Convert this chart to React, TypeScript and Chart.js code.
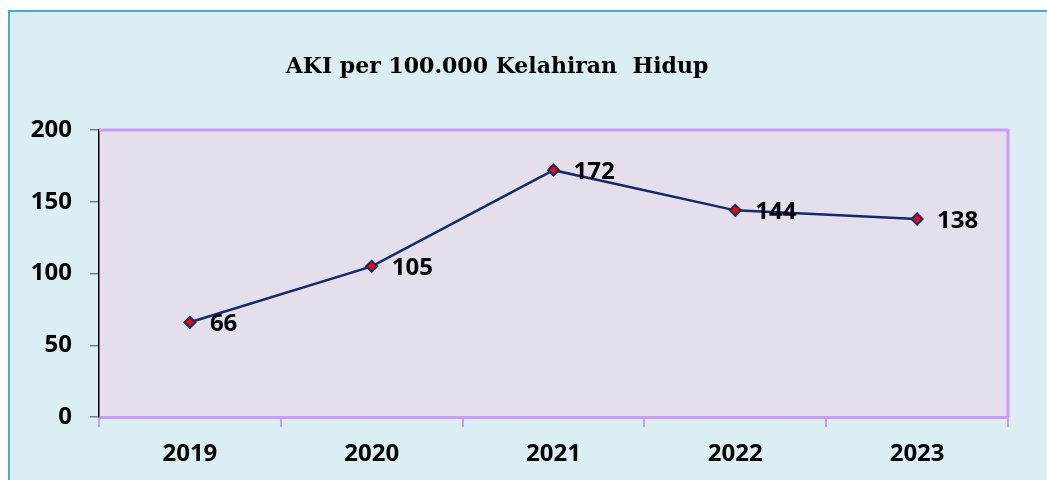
import React, { useEffect, useRef } from "react";
import { Chart, registerables } from "chart.js";

Chart.register(...registerables);

const TITLE = "AKI per 100.000 Kelahiran  Hidup";
const YEARS = ["2019", "2020", "2021", "2022", "2023"];
const AKI_VALUES = [66, 105, 172, 144, 138];
const Y_MIN = 0;
const Y_MAX = 200;
const Y_STEP = 50;

const LABEL_FONT = "bold 24px 'Open Sans'";

const decorPlugin = {
  id: "decor",
  beforeDraw(chart: any) {
    const { ctx, chartArea } = chart;
    ctx.save();
    ctx.fillStyle = "#e5dfec";
    ctx.fillRect(chartArea.left, chartArea.top, chartArea.right - chartArea.left, chartArea.bottom - chartArea.top);
    ctx.restore();
  },
  afterDraw(chart: any) {
    const { ctx, chartArea } = chart;
    ctx.save();
    ctx.strokeStyle = "#cc99ff";
    ctx.lineWidth = 3;
    ctx.beginPath();
    ctx.moveTo(chartArea.left, chartArea.top);
    ctx.lineTo(chartArea.right, chartArea.top);
    ctx.lineTo(chartArea.right, chartArea.bottom);
    ctx.stroke();
    // title
    ctx.fillStyle = "#000";
    ctx.font = "bold 22px 'DejaVu Serif'";
    ctx.textAlign = "center";
    ctx.textBaseline = "alphabetic";
    ctx.fillText(TITLE, 487, 61);
    ctx.restore();
  },
  afterDatasetsDraw(chart: any) {
    const { ctx } = chart;
    const meta = chart.getDatasetMeta(0);
    ctx.save();
    ctx.fillStyle = "#000";
    ctx.font = LABEL_FONT;
    ctx.textAlign = "left";
    ctx.textBaseline = "middle";
    meta.data.forEach((pt: any, i: number) => {
      ctx.fillText(String(AKI_VALUES[i]), pt.x + 20, pt.y + 2);
    });
    ctx.restore();
  },
};

export default function App() {
  const ref = useRef<HTMLCanvasElement>(null);
  useEffect(() => {
    if (!ref.current) return;
    const chart = new Chart(ref.current, {
      type: "line",
      data: {
        labels: YEARS,
        datasets: [
          {
            data: AKI_VALUES,
            borderColor: "#0f2c6b",
            borderWidth: 2.5,
            pointStyle: "rectRot",
            pointRadius: 5.5,
            pointBackgroundColor: "#ff0000",
            pointBorderColor: "#0f2c6b",
            pointBorderWidth: 2,
            tension: 0,
          },
        ],
      },
      options: {
        animation: false,
        responsive: false,
        maintainAspectRatio: false,
        layout: { padding: { top: 118, right: 39, bottom: 0, left: 0 } },
        plugins: { legend: { display: false }, title: { display: false }, tooltip: { enabled: false } },
        scales: {
          x: {
            offset: true,
            grid: {
              offset: true,
              drawOnChartArea: false,
              drawTicks: true,
              tickLength: 10,
              color: "#cc99ff",
              lineWidth: 2,
            },
            border: { color: "#cc99ff", width: 3 },
            ticks: { color: "#000", font: { family: "'Open Sans'", size: 24, weight: "bold" }, padding: 13, maxRotation: 0 },
            afterFit(scale: any) {
              scale.height = 63;
            },
          },
          y: {
            min: Y_MIN,
            max: Y_MAX,
            grid: {
              drawOnChartArea: false,
              drawTicks: true,
              tickLength: 9,
              color: "#808080",
              lineWidth: 1.5,
            },
            border: { color: "#000", width: 1.5 },
            ticks: { stepSize: Y_STEP, color: "#000", font: { family: "'Open Sans'", size: 24, weight: "bold" }, padding: 18 },
            afterFit(scale: any) {
              scale.width = 89;
            },
          },
        },
      },
      plugins: [decorPlugin],
    } as any);
    return () => chart.destroy();
  }, []);

  return (
    <div
      style={{
        position: "fixed",
        left: 8,
        top: 10,
        right: 0,
        bottom: 0,
        borderLeft: "2px solid #4bacc6",
        borderTop: "2px solid #4bacc6",
        background: "#daeef3",
        overflow: "hidden",
      }}
    >
      <canvas ref={ref} width={1037} height={468} style={{ display: "block" }} />
    </div>
  );
}
